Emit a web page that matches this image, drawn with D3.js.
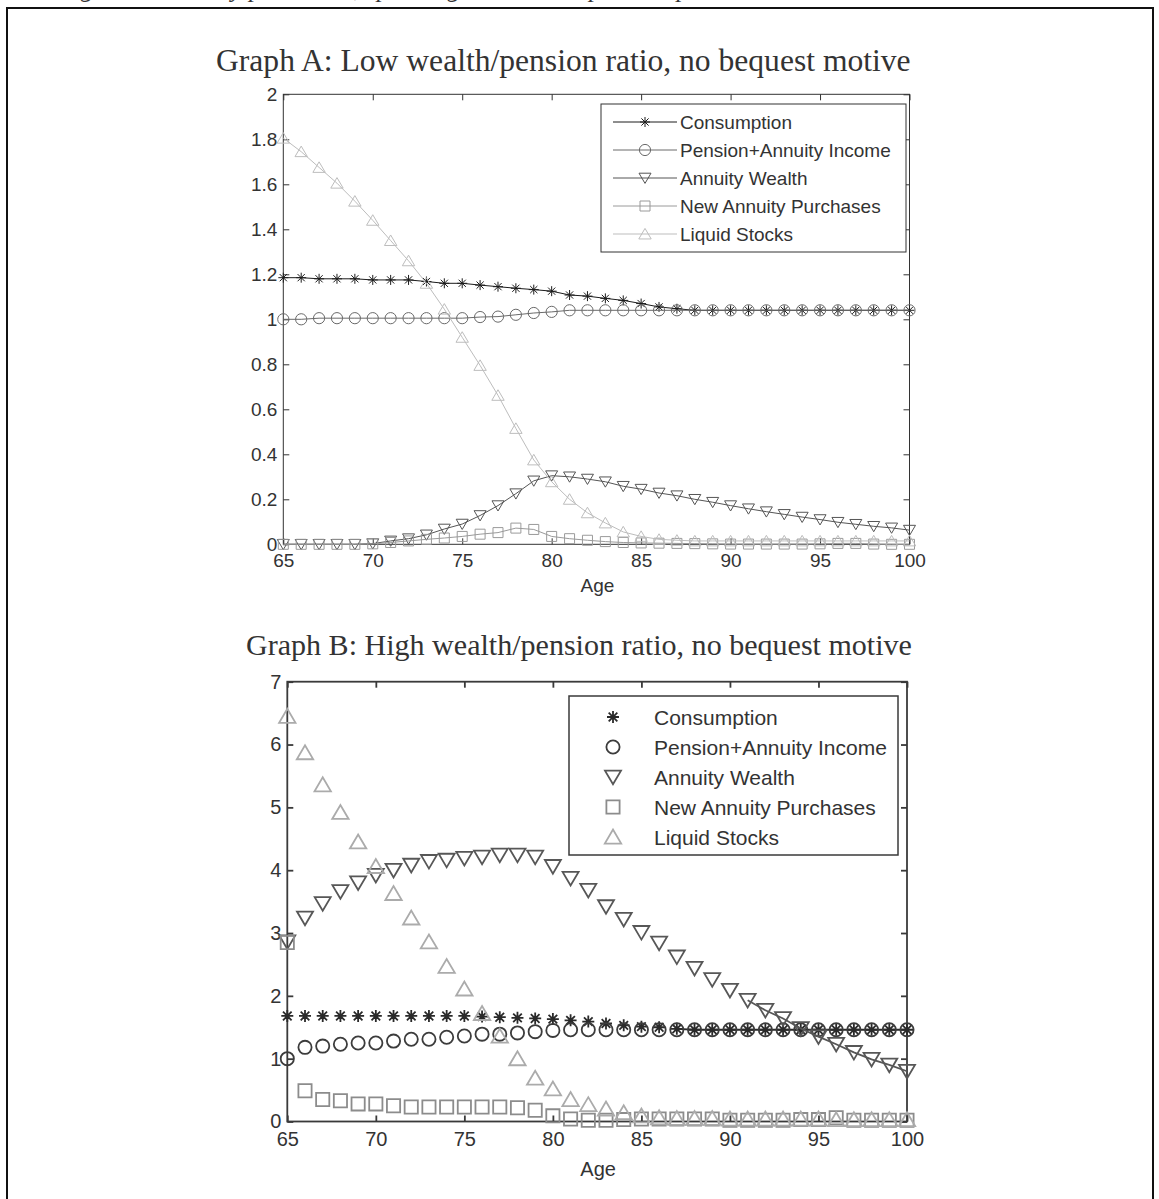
<!DOCTYPE html>
<html>
<head>
<meta charset="utf-8">
<script src="https://cdn.jsdelivr.net/npm/d3@7"></script>
<style>
  html, body { margin: 0; padding: 0; background: #fff; }
  svg { display: block; }
</style>
</head>
<body>
<svg id="fig" width="1159" height="1199"></svg>
<script>
// ---------------- data ----------------
const ages = [65,66,67,68,69,70,71,72,73,74,75,76,77,78,79,80,81,82,83,84,85,86,87,88,89,90,91,92,93,94,95,96,97,98,99,100];

const seriesNames = ["Consumption", "Pension+Annuity Income", "Annuity Wealth", "New Annuity Purchases", "Liquid Stocks"];

// Graph A: low wealth/pension ratio
const aConsumption = [1.185,1.185,1.18,1.18,1.18,1.175,1.175,1.175,1.168,1.16,1.16,1.152,1.145,1.138,1.132,1.125,1.108,1.103,1.093,1.084,1.07,1.055,1.047,1.04,1.04,1.04,1.04,1.04,1.04,1.04,1.04,1.04,1.04,1.04,1.04,1.04];
const aPension     = [1.0,1.0,1.005,1.005,1.005,1.005,1.005,1.005,1.005,1.005,1.005,1.01,1.012,1.02,1.028,1.033,1.04,1.04,1.04,1.04,1.04,1.04,1.04,1.04,1.04,1.04,1.04,1.04,1.04,1.04,1.04,1.04,1.04,1.04,1.04,1.04];
const aAnnuity     = [0,0,0,0,0,0.003,0.015,0.025,0.042,0.068,0.09,0.128,0.172,0.225,0.282,0.305,0.3,0.29,0.278,0.258,0.245,0.228,0.216,0.2,0.187,0.172,0.158,0.145,0.133,0.121,0.11,0.098,0.089,0.08,0.073,0.063];
const aPurchases   = [0,0,0,0,0,0.002,0.008,0.015,0.022,0.028,0.035,0.045,0.052,0.072,0.066,0.035,0.025,0.018,0.012,0.008,0.006,0.005,0.004,0.003,0.002,0.001,0.001,0.001,0.001,0.001,0.002,0.004,0.004,0.001,0,0];
const aLiquid      = [1.805,1.745,1.675,1.605,1.525,1.44,1.35,1.26,1.16,1.045,0.92,0.795,0.662,0.515,0.375,0.278,0.2,0.14,0.095,0.055,0.035,0.022,0.018,0.015,0.015,0.015,0.015,0.015,0.015,0.015,0.015,0.015,0.015,0.015,0.015,0.015];

// Graph B: high wealth/pension ratio
const bConsumption = [1.68,1.68,1.68,1.68,1.68,1.68,1.68,1.68,1.68,1.68,1.68,1.67,1.66,1.65,1.64,1.63,1.61,1.59,1.56,1.53,1.51,1.5,1.475,1.46,1.46,1.46,1.46,1.46,1.46,1.46,1.46,1.46,1.46,1.46,1.46,1.46];
const bPension     = [1.0,1.18,1.2,1.23,1.25,1.25,1.28,1.31,1.31,1.34,1.36,1.39,1.39,1.41,1.43,1.45,1.46,1.46,1.46,1.46,1.46,1.46,1.46,1.46,1.46,1.46,1.46,1.46,1.46,1.46,1.46,1.46,1.46,1.46,1.46,1.46];
const bAnnuity     = [2.86,3.24,3.47,3.66,3.8,3.92,4.0,4.08,4.14,4.16,4.19,4.21,4.24,4.24,4.21,4.06,3.87,3.68,3.42,3.22,3.01,2.84,2.62,2.44,2.26,2.09,1.93,1.77,1.64,1.48,1.35,1.23,1.1,0.99,0.9,0.8];
const bPurchases   = [2.85,0.49,0.35,0.33,0.28,0.28,0.25,0.23,0.23,0.23,0.23,0.23,0.23,0.22,0.18,0.09,0.04,0.02,0.02,0.03,0.04,0.04,0.04,0.04,0.04,0.02,0.02,0.02,0.02,0.03,0.03,0.06,0.02,0.02,0.02,0.02];
const bLiquid      = [6.45,5.87,5.36,4.92,4.45,4.06,3.63,3.24,2.86,2.47,2.11,1.72,1.36,1.0,0.69,0.52,0.35,0.27,0.2,0.14,0.09,0.06,0.05,0.05,0.05,0.04,0.04,0.04,0.04,0.04,0.04,0.03,0.03,0.03,0.03,0.03];

// tick labels
const xTicks  = [65,70,75,80,85,90,95,100];
const yTicksA = [0,0.2,0.4,0.6,0.8,1,1.2,1.4,1.6,1.8,2];
const yTicksB = [0,1,2,3,4,5,6,7];

const titleA = "Graph A: Low wealth/pension ratio, no bequest motive";
const titleB = "Graph B: High wealth/pension ratio, no bequest motive";
const xLabel = "Age";
const captionText = "Figure 2: Annuity purchases, spending and wealth/pension paths";

// ---------------- marker shapes ----------------
const markerPath = {
  asterisk: s => `M0,${-s}L0,${s}M${-s},0L${s},0M${-0.72*s},${-0.72*s}L${0.72*s},${0.72*s}M${-0.72*s},${0.72*s}L${0.72*s},${-0.72*s}`,
  circle:   s => `M${s},0A${s},${s},0,1,1,${-s},0A${s},${s},0,1,1,${s},0Z`,
  down:     s => `M${-s},${-0.8*s}L${s},${-0.8*s}L0,${0.9*s}Z`,
  square:   s => `M${-s},${-s}L${s},${-s}L${s},${s}L${-s},${s}Z`,
  up:       s => `M${-s},${0.8*s}L${s},${0.8*s}L0,${-0.9*s}Z`
};
const shapes = ["asterisk", "circle", "down", "square", "up"];

const svg = d3.select("#fig");
const SANS = "'Liberation Sans', Arial, sans-serif";
const SERIF = "'Liberation Serif', 'Times New Roman', serif";

// outer frame and the caption line running off the top edge
svg.append("text")
  .attr("x", 58).attr("y", -3)
  .attr("font-family", SERIF).attr("font-style", "italic")
  .attr("font-size", 26).attr("fill", "#333")
  .text(captionText);
svg.append("rect")
  .attr("x", 7).attr("y", 8).attr("width", 1146).attr("height", 1260)
  .attr("fill", "none").attr("stroke", "#111").attr("stroke-width", 2);

function fittedTitle(text, xStart, xEnd, baseline) {
  const t = svg.append("text")
    .attr("x", xStart).attr("y", baseline)
    .attr("font-family", SERIF).attr("font-size", 27).attr("fill", "#333")
    .text(text);
  const w = t.node().getComputedTextLength();
  t.attr("font-size", 27 * (xEnd - xStart) / w);
}

function drawPanel(cfg) {
  const x = d3.scaleLinear().domain([65, 100]).range([cfg.left, cfg.right]);
  const y = d3.scaleLinear().domain(cfg.yDomain).range([cfg.bottom, cfg.top]);
  const g = svg.append("g");

  // axes (box with inward ticks on all four sides)
  const axStyle = sel => {
    sel.select(".domain").remove();
    sel.selectAll(".tick line").attr("stroke", cfg.axisColor).attr("stroke-width", cfg.axisWidth);
    sel.selectAll(".tick text").attr("fill", "#333").attr("font-family", SANS).attr("font-size", cfg.tickFont);
  };
  g.append("g").attr("transform", `translate(0,${cfg.bottom})`)
    .call(d3.axisBottom(x).tickValues(xTicks).tickSizeInner(-cfg.tick).tickSizeOuter(0).tickPadding(cfg.xPad).tickFormat(d3.format("d")))
    .call(axStyle);
  g.append("g").attr("transform", `translate(0,${cfg.top})`)
    .call(d3.axisTop(x).tickValues(xTicks).tickSizeInner(-cfg.tick).tickSizeOuter(0).tickFormat(""))
    .call(axStyle);
  g.append("g").attr("transform", `translate(${cfg.left},0)`)
    .call(d3.axisLeft(y).tickValues(cfg.yTicks).tickSizeInner(-cfg.tick).tickSizeOuter(0).tickPadding(cfg.yPad).tickFormat(d => String(+d.toFixed(1))))
    .call(axStyle);
  g.append("g").attr("transform", `translate(${cfg.right},0)`)
    .call(d3.axisRight(y).tickValues(cfg.yTicks).tickSizeInner(-cfg.tick).tickSizeOuter(0).tickFormat(""))
    .call(axStyle);
  g.append("rect")
    .attr("x", cfg.left).attr("y", cfg.top)
    .attr("width", cfg.right - cfg.left).attr("height", cfg.bottom - cfg.top)
    .attr("fill", "none").attr("stroke", cfg.axisColor).attr("stroke-width", cfg.axisWidth);

  g.append("text")
    .attr("x", (cfg.left + cfg.right) / 2 + 1).attr("y", cfg.labelBaseline)
    .attr("text-anchor", "middle").attr("font-family", SANS).attr("font-size", cfg.labelFont).attr("fill", "#333")
    .text(xLabel);

  // series
  const line = d3.line().x(d => x(d[0])).y(d => y(d[1]));
  cfg.series.forEach((vals, i) => {
    const pts = ages.map((a, k) => [a, vals[k]]);
    const col = cfg.colors[i];
    const from = cfg.lineFrom[i];
    if (from !== null) {
      g.append("path").datum(pts.filter(p => p[0] >= from))
        .attr("d", line).attr("fill", "none").attr("stroke", col).attr("stroke-width", cfg.lineWidth);
    }
    g.selectAll(null).data(pts).join("path")
      .attr("transform", d => `translate(${x(d[0])},${y(d[1])})`)
      .attr("d", markerPath[shapes[i]](cfg.markerSize[i]))
      .attr("fill", "none").attr("stroke", col).attr("stroke-width", cfg.markerWidth);
  });

  // legend
  const L = cfg.legend;
  const lg = svg.append("g");
  lg.append("rect").attr("x", L.x).attr("y", L.y).attr("width", L.w).attr("height", L.h)
    .attr("fill", "#fff").attr("stroke", cfg.axisColor).attr("stroke-width", L.border);
  seriesNames.forEach((name, i) => {
    const cy = L.row0 + i * L.step;
    if (L.line) {
      lg.append("line").attr("x1", L.lineX0).attr("x2", L.lineX1).attr("y1", cy).attr("y2", cy)
        .attr("stroke", cfg.colors[i]).attr("stroke-width", cfg.lineWidth);
    }
    lg.append("path").attr("transform", `translate(${L.markerX},${cy})`)
      .attr("d", markerPath[shapes[i]](cfg.markerSize[i]))
      .attr("fill", "none").attr("stroke", cfg.colors[i]).attr("stroke-width", cfg.markerWidth);
    lg.append("text").attr("x", L.textX).attr("y", cy).attr("dy", "0.36em")
      .attr("font-family", SANS).attr("font-size", L.font).attr("fill", "#333")
      .text(name);
  });
}

fittedTitle(titleA, 216, 911, 71);
drawPanel({
  left: 283.3, right: 909.5, top: 94.3, bottom: 544.3,
  yDomain: [0, 2], yTicks: yTicksA,
  axisColor: "#333", axisWidth: 1, tick: 6, tickFont: 19, xPad: 9, yPad: 6,
  labelFont: 19, labelBaseline: 592,
  series: [aConsumption, aPension, aAnnuity, aPurchases, aLiquid],
  colors: ["#1c1c1c", "#6a6a6a", "#555555", "#9a9a9a", "#bdbdbd"],
  lineFrom: [65, 65, 65, 65, 65],
  lineWidth: 1, markerWidth: 1,
  markerSize: [5, 5.6, 6, 5, 6.2],
  legend: { x: 601, y: 104, w: 305, h: 148, border: 1, row0: 122, step: 28,
            line: true, lineX0: 613, lineX1: 677, markerX: 645, textX: 680, font: 19 }
});

fittedTitle(titleB, 246, 912, 655);
drawPanel({
  left: 287.3, right: 907, top: 681.7, bottom: 1121.5,
  yDomain: [0, 7], yTicks: yTicksB,
  axisColor: "#3a3a3a", axisWidth: 1.8, tick: 6, tickFont: 20, xPad: 10, yPad: 6,
  labelFont: 20, labelBaseline: 1176,
  series: [bConsumption, bPension, bAnnuity, bPurchases, bLiquid],
  colors: ["#2a2a2a", "#3c3c3c", "#575757", "#8c8c8c", "#ababab"],
  lineFrom: [87, null, 91, null, null],
  lineWidth: 1.8, markerWidth: 1.8,
  markerSize: [6, 6.6, 8, 6.6, 8.2],
  legend: { x: 569, y: 696, w: 329, h: 159, border: 1.5, row0: 717, step: 30,
            line: false, markerX: 613, textX: 654, font: 21 }
});
</script>
</body>
</html>
